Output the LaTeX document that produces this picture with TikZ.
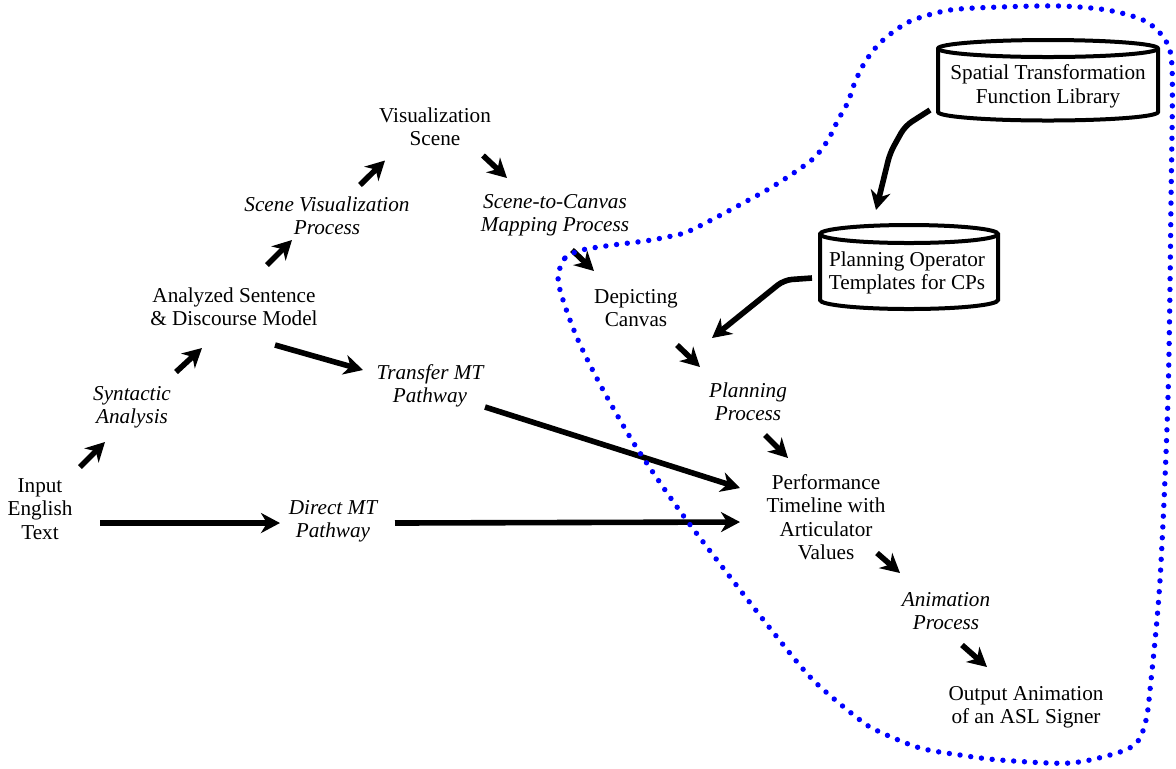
\documentclass[tikz,border=0pt]{standalone}
\usepackage{fontspec}
\setmainfont{Liberation Serif}
\usetikzlibrary{arrows.meta}
\begin{document}
\begin{tikzpicture}[x=0.5pt,y=-0.5pt,
  lbl/.style={align=center, inner sep=0pt, font=\fontsize{10.6}{11.7}\selectfont},
  proc/.style={align=center, inner sep=0pt, font=\fontsize{10.6}{11.7}\selectfont\itshape},
  arr/.style={line width=2.8pt, -{Stealth[length=9.5pt,width=10pt,inset=3pt]}},
  cyl/.style={line width=2pt, fill=white},
  bound/.style={blue, line width=2.7pt, line cap=round, dash pattern=on 0pt off 5.4pt}]
\useasboundingbox (0,0) rectangle (1176,768);

% database cylinders
\draw[cyl] (938,48.5) -- (938,112)
  arc[start angle=180,end angle=360,x radius=55pt,y radius=4.25pt] -- (1158,48.5)
  arc[start angle=0,end angle=180,x radius=55pt,y radius=4.25pt] -- cycle;
\draw[line width=2pt] (938,48.5) arc[start angle=180,end angle=360,x radius=55pt,y radius=4.25pt];
\draw[cyl] (820,234) -- (820,300)
  arc[start angle=180,end angle=360,x radius=44.5pt,y radius=4.5pt] -- (998,234)
  arc[start angle=0,end angle=180,x radius=44.5pt,y radius=4.5pt] -- cycle;
\draw[line width=2pt] (820,234) arc[start angle=180,end angle=360,x radius=44.5pt,y radius=4.5pt];

% labels
\node[lbl]  (spat)     at (1048,86.5) {Spatial Transformation\\Function Library};
\node[lbl]  (planop)   at (907,273)   {Planning Operator\\Templates for CPs};
\node[lbl]  (input)    at (40,509)    {Input\\English\\Text};
\node[proc] (direct)   at (333,521)   {Direct MT\\Pathway};
\node[proc] (syn)      at (132,407)   {Syntactic\\Analysis};
\node[lbl]  (ana)      at (234,307)   {Analyzed Sentence\\\& Discourse Model};
\node[proc] (scenevis) at (327,216)   {Scene Visualization\\Process};
\node[lbl]  (vis)      at (435,126.5) {Visualization\\Scene};
\node[proc] (stc)      at (555,215)   {Scene-to-Canvas\\Mapping Process};
\node[lbl]  (dep)      at (636,308)   {Depicting\\Canvas};
\node[proc] (plan)     at (748,402)   {Planning\\Process};
\node[proc] (transfer) at (430,386)   {Transfer MT\\Pathway};
\node[lbl]  (perf)     at (826,517)   {Performance\\Timeline with\\Articulator\\Values};
\node[proc] (anim)     at (946,611)   {Animation\\Process};
\node[lbl]  (out)      at (1026,707)  {Output Animation\\of an ASL Signer};

% pipeline arrows
\draw[arr] ([shift={(40,-42)}]input.center) -- ([shift={(-27,35)}]syn.center);
\draw[arr] ([shift={(44,-35)}]syn.center) -- ([shift={(-32,41)}]ana.center);
\draw[arr] ([shift={(33,-42)}]ana.center) -- ([shift={(-35,24)}]scenevis.center);
\draw[arr] ([shift={(33,-31)}]scenevis.center) -- ([shift={(-50,34)}]vis.center);
\draw[arr] ([shift={(48,29)}]vis.center) -- ([shift={(-48,-37)}]stc.center);
\draw[arr] ([shift={(17,35)}]stc.center) -- ([shift={(-42,-37)}]dep.center);
\draw[arr] ([shift={(41,37)}]dep.center) -- ([shift={(-48,-35)}]plan.center);
\draw[arr] ([shift={(17,33)}]plan.center) -- ([shift={(-38,-59)}]perf.center);
\draw[arr] ([shift={(51,36)}]perf.center) -- ([shift={(-46,-38)}]anim.center);
\draw[arr] ([shift={(16,34)}]anim.center) -- ([shift={(-39,-40)}]out.center);
\draw[arr] ([shift={(41,38)}]ana.center) -- ([shift={(-67,-16)}]transfer.center);
\draw[arr] ([shift={(55,21)}]transfer.center) -- ([shift={(-86,-29)}]perf.center);
\draw[arr] ([shift={(60,14)}]input.center) -- ([shift={(-53,2)}]direct.center);
\draw[arr] ([shift={(62,2)}]direct.center) -- ([shift={(-86,5)}]perf.center);

% library connectors
\draw[arr, rounded corners=4pt] ([shift={(-118,23.5)}]spat.center) -- (905,126) -- (890,153)
  -- ([shift={(-31,-63)}]planop.center);
\draw[arr, rounded corners=4pt] ([shift={(-95,5)}]planop.center) -- (784,280)
  -- ([shift={(-36,-64)}]plan.center);

% boundary of the depiction subsystem
\draw[bound] plot[smooth cycle, tension=0.5] coordinates {
  (558,277) (565,258) (582,250) (613,245) (645,241) (667,237) (687,232) (717,217)
  (745,202) (772,187) (798,170) (815,157) (828,140) (838,120) (848,102) (855,82)
  (865,62) (878,45) (893,32) (913,20) (950,10) (1000,7) (1060,6) (1107,10)
  (1143,20) (1163,37) (1172,67) (1171,200) (1168,397) (1160,580) (1150,690)
  (1146,720) (1138,741) (1120,752) (1070,763) (1000,760) (960,755) (920,748)
  (880,732) (860,720) (813,680) (773,632) (727,573) (688,522) (663,487)
  (633,442) (602,388) (578,340) (563,300)};
\end{tikzpicture}
\end{document}
